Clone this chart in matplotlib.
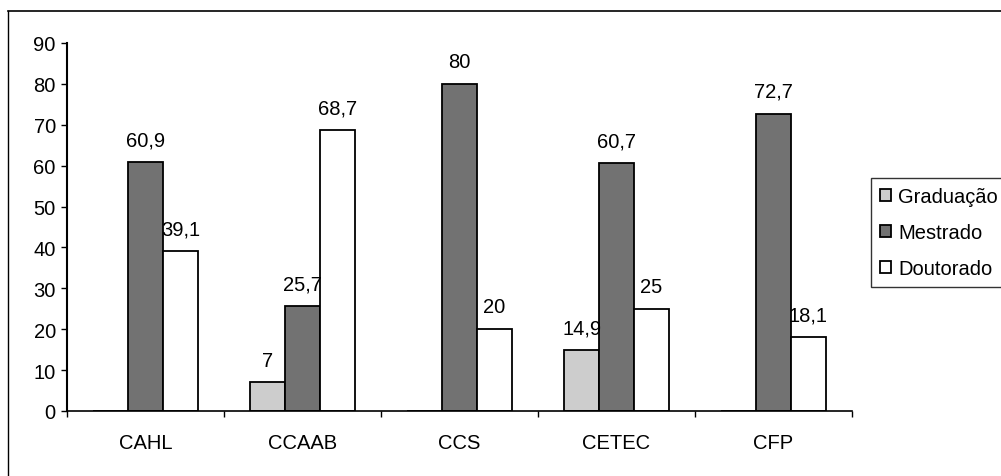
import matplotlib
matplotlib.use("Agg")
import matplotlib.pyplot as plt
from matplotlib.lines import Line2D
import numpy as np

plt.rcParams['font.family'] = ['Liberation Sans', 'DejaVu Sans']

categories = ["CAHL", "CCAAB", "CCS", "CETEC", "CFP"]
series_names = ["Graduação", "Mestrado", "Doutorado"]
graduacao = [0, 7, 0, 14.9, 0]
mestrado = [60.9, 25.7, 80, 60.7, 72.7]
doutorado = [39.1, 68.7, 20, 25, 18.1]
yticks = [0, 10, 20, 30, 40, 50, 60, 70, 80, 90]

series = [graduacao, mestrado, doutorado]
colors = ["#cdcdcd", "#727272", "#ffffff"]

fig = plt.figure(figsize=(10.01, 4.77), dpi=100)
ax = fig.add_axes([0.0669, 0.1363, 0.7842, 0.7715])

x = np.arange(len(categories))
w = 0.222
fs = 14.5
for i, (vals, name, c) in enumerate(zip(series, series_names, colors)):
    pos = x + (i - 1) * w
    ax.bar(pos, vals, width=w, color=c, edgecolor="black", linewidth=1.3, label=name)
    for xp, v in zip(pos, vals):
        if v > 0:
            ax.annotate(f"{v:g}".replace(".", ","), (xp, v), xytext=(0, 16), textcoords="offset points",
                        ha="center", va="center", fontsize=fs)

ax.set_xlim(-0.5, len(categories) - 0.5)
ax.set_ylim(0, 90)
ax.set_yticks(yticks)
ax.tick_params(axis="y", direction="out", length=4, width=1, labelsize=fs, pad=4)
ax.set_xticks(np.arange(len(categories) + 1) - 0.5)
ax.set_xticklabels([])
ax.tick_params(axis="x", which="major", direction="out", length=4, width=1)
ax.set_xticks(x, minor=True)
ax.set_xticklabels(categories, minor=True)
ax.tick_params(axis="x", which="minor", length=0, labelsize=fs, pad=16)
for s in ["top", "right"]:
    ax.spines[s].set_visible(False)
ax.spines["left"].set_linewidth(1.5)
ax.spines["bottom"].set_linewidth(1.2)

leg = ax.legend(loc="upper left", bbox_to_anchor=(871 / 1001, 1 - 179 / 477), bbox_transform=fig.transFigure,
                fontsize=fs, frameon=True, fancybox=False, edgecolor="black", handlelength=0.55,
                handleheight=0.55, handletextpad=0.35, labelspacing=0.85, borderpad=0.45, borderaxespad=0)
leg.get_frame().set_linewidth(1.0)

fig.add_artist(Line2D([8 / 1001, 1], [1 - 12 / 477, 1 - 12 / 477], color="black", lw=1.2, transform=fig.transFigure))
fig.add_artist(Line2D([8 / 1001, 8 / 1001], [0, 1 - 12 / 477], color="black", lw=1.0, transform=fig.transFigure))

fig.savefig("out.png", dpi=100)
